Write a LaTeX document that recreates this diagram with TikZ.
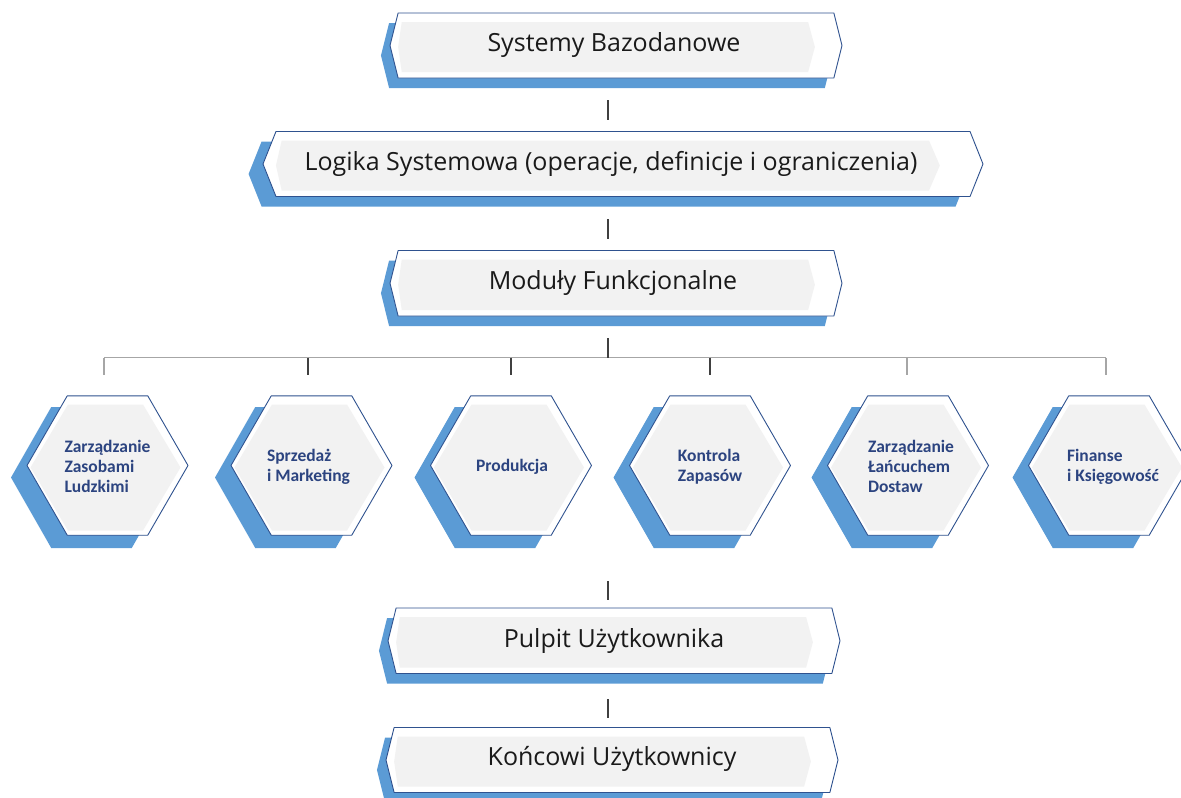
\documentclass[tikz,border=0pt]{standalone}
\usepackage{fontspec}
\setmainfont{Open Sans}
\newfontfamily\hexfont{Carlito}
\usetikzlibrary{calc}
\definecolor{borderblue}{RGB}{47,82,143}
\definecolor{shadowblue}{RGB}{91,155,213}
\definecolor{panelgray}{RGB}{242,242,242}
\definecolor{hexblue}{RGB}{44,68,128}
\definecolor{bantext}{RGB}{26,26,26}
\definecolor{tickgray}{RGB}{64,64,64}
\definecolor{bargray}{RGB}{166,166,166}
\tikzset{
  bannertext/.style={inner sep=0pt,text=bantext,font=\fontsize{25}{30}\selectfont},
  hextext/.style={inner sep=0pt,text=hexblue,align=left,font=\hexfont\bfseries\fontsize{17.5}{20}\selectfont},
  tickline/.style={draw=tickgray,line width=1.6pt},
  barline/.style={draw=bargray,line width=1.5pt},
  outline/.style={fill=white,draw=borderblue,line width=0.9pt,line join=round}
}
\newcommand\bannershape[4]{%
  \pgfmathsetmacro\bW{#2-#1}%
  \pgfmathsetmacro\bC{0.018*\bW}%
  \pgfmathsetmacro\bS{0.02*\bW}%
  \pgfmathsetmacro\bM{(#3+#4)/2}%
  \fill[shadowblue] ({#1+\bC-\bS},{#3+10}) -- ({#2-\bC-\bS},{#3+10}) -- ({#2-\bS},{\bM+10}) -- ({#2-\bC-\bS},{#4+10}) -- ({#1+\bC-\bS},{#4+10}) -- ({#1-\bS},{\bM+10}) -- cycle;
  \filldraw[outline] ({#1+\bC},#3) -- ({#2-\bC},#3) -- (#2,\bM) -- ({#2-\bC},#4) -- ({#1+\bC},#4) -- (#1,\bM) -- cycle;
  \fill[panelgray] ({#1+0.026*\bW},{#3+9}) -- ({#2-0.075*\bW},{#3+9}) -- ({#2-0.06*\bW},{\bM+1.5}) -- ({#2-0.075*\bW},{#4-6}) -- ({#1+0.026*\bW},{#4-6}) -- ({#1+0.018*\bW},{\bM+1.5}) -- cycle;
}
\newcommand\hexpath[5]{({#1+#3},{#2}) -- ({#1+#4},{#2+#5}) -- ({#1-#4},{#2+#5}) -- ({#1-#3},{#2}) -- ({#1-#4},{#2-#5}) -- ({#1+#4},{#2-#5}) -- cycle}
\newcommand\hexshape[2]{%
  \begin{scope}[shift={(#1,#2)}]
    \fill[shadowblue] \hexpath{-16}{12}{80.5}{40.25}{70.5};
    \filldraw[outline] \hexpath{0}{0}{80.5}{40.25}{69.7};
    \fill[panelgray] \hexpath{-2}{2}{75}{37.5}{63};
  \end{scope}}
\begin{document}
\begin{tikzpicture}[x=1pt,y=-1pt]
\useasboundingbox (0,0) rectangle (1181,798);
% banners
\bannershape{390}{842}{13}{78}
\node[bannertext] (b1) at (614,45.5) {Systemy Bazodanowe};
\bannershape{263}{983}{131.5}{196.5}
\node[bannertext] (b2) at (611,164) {Logika Systemowa (operacje, definicje i ograniczenia)};
\bannershape{390}{842}{250.5}{316}
\node[bannertext] (b3) at (613,283) {Moduły Funkcjonalne};
\bannershape{388}{840}{608}{673.5}
\node[bannertext] (b4) at (614,641) {Pulpit Użytkownika};
\bannershape{386}{838}{727.5}{792.5}
\node[bannertext] (b5) at (612,759) {Końcowi Użytkownicy};
% hexagons
\hexshape{107.5}{465.5}
\node[hextext] (h1) at (107.5,466.5) {Zarządzanie\\Zasobami\\Ludzkimi};
\hexshape{311.5}{465.5}
\node[hextext] (h2) at (308.5,466.5) {Sprzedaż\\i Marketing};
\hexshape{511}{465.5}
\node[hextext] (h3) at (512,466.5) {Produkcja};
\hexshape{710}{465.5}
\node[hextext] (h4) at (710,466.5) {Kontrola\\Zapasów};
\hexshape{908}{465.5}
\node[hextext] (h5) at (911,466.5) {Zarządzanie\\Łańcuchem\\Dostaw};
\hexshape{1109}{465.5}
\node[hextext] (h6) at (1113,466.5) {Finanse\\i Księgowość};
% connectors
\coordinate (t1a) at (608,100); \coordinate (t1b) at (608,120);
\coordinate (t2a) at (608,219); \coordinate (t2b) at (608,239);
\coordinate (t3a) at (608,338); \coordinate (t3b) at (608,357.5);
\coordinate (t4a) at (608,581); \coordinate (t4b) at (608,600);
\coordinate (t5a) at (608,699); \coordinate (t5b) at (608,718);
\draw[tickline] (t1a) -- (t1b);
\draw[tickline] (t2a) -- (t2b);
\draw[tickline] (t4a) -- (t4b);
\draw[tickline] (t5a) -- (t5b);
\coordinate (barL) at (104,357.5); \coordinate (barR) at (1106,357.5);
\draw[barline] (barL) -- (barR);
\draw[tickline] (t3a) -- (t3b);
\foreach \x/\c in {104/bargray,308/tickgray,511/tickgray,710/tickgray,907/bargray,1106/bargray}{
  \coordinate (d\x) at (\x,357.5);
  \coordinate (e\x) at (\x,375);
  \draw[line width=1.5pt,draw=\c] (d\x) -- (e\x);
}
\end{tikzpicture}
\end{document}
